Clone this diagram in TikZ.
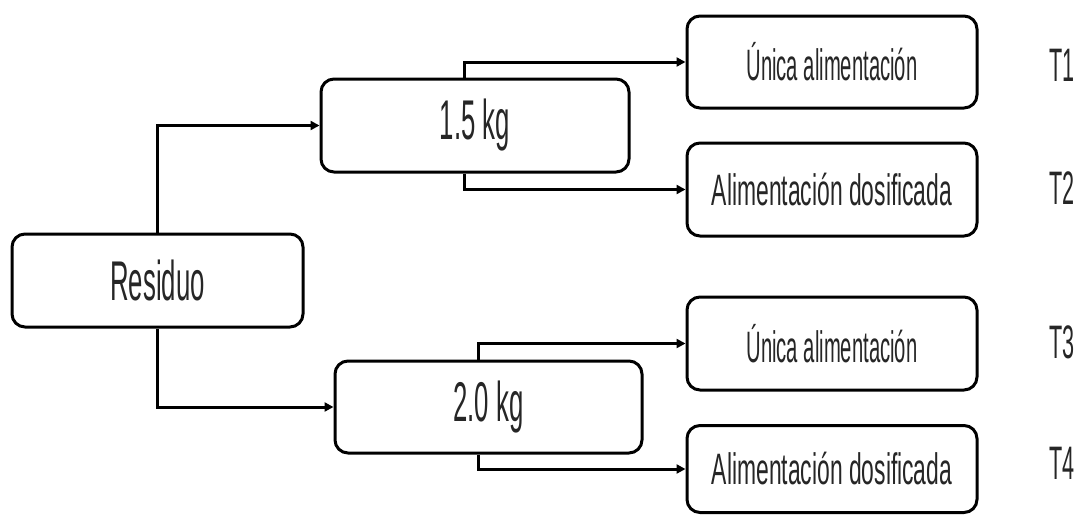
\documentclass[tikz,border=0pt]{standalone}
\usepackage{fontspec}
\newfontfamily\agency[FakeStretch=0.46]{Liberation Sans}
\newfontfamily\agencywide[FakeStretch=0.52]{Liberation Sans}
\usetikzlibrary{arrows.meta,calc}
\begin{document}
\begin{tikzpicture}[x=1pt,y=-1pt,
  box/.style={draw=black,line width=3pt,rounded corners=13pt,inner sep=0pt,
    minimum width=#1,font=\agency\fontsize{44}{48}\selectfont,text=black!85},
  wide/.style={font=\agencywide\fontsize{44}{48}\selectfont},
  big/.style={font=\agency\fontsize{56}{60}\selectfont},
  arr/.style={line width=3pt,-{Triangle[length=9pt,width=9pt]}},
  tlab/.style={font=\agency\fontsize{47}{50}\selectfont,text=black!85}]
\useasboundingbox (0,0) rectangle (1078,514);
\node[box=291pt,minimum height=93pt,big] (res) at (157.5,280.5) {Residuo};
\node[box=308pt,minimum height=93pt,big] (a) at (475,125.5) {1.5 kg};
\node[box=307pt,minimum height=92pt,big] (b) at (488.5,407) {2.0 kg};
\node[box=290pt,minimum height=92pt] (t1) at (832,62) {Única alimentación};
\node[box=290pt,minimum height=93pt,wide] (t2) at (832,189.5) {Alimentación dosificada};
\node[box=290pt,minimum height=93pt] (t3) at (832,343.5) {Única alimentación};
\node[box=290pt,minimum height=87pt,wide] (t4) at (832,469) {Alimentación dosificada};
\node[tlab] (l1) at (1062,65) {T1};
\node[tlab] (l2) at (1062,188) {T2};
\node[tlab] (l3) at (1062,342) {T3};
\node[tlab] (l4) at (1062,463) {T4};
\draw[arr] (res.north) |- (a.west);
\draw[arr] (res.south) |- (b.west);
\draw[arr] ($(a.north west)+(145,0)$) |- (t1.west);
\draw[arr] ($(a.south west)+(145,0)$) |- (t2.west);
\draw[arr] ($(b.north west)+(145,0)$) |- (t3.west);
\draw[arr] ($(b.south west)+(145,0)$) |- (t4.west);
\end{tikzpicture}
\end{document}
